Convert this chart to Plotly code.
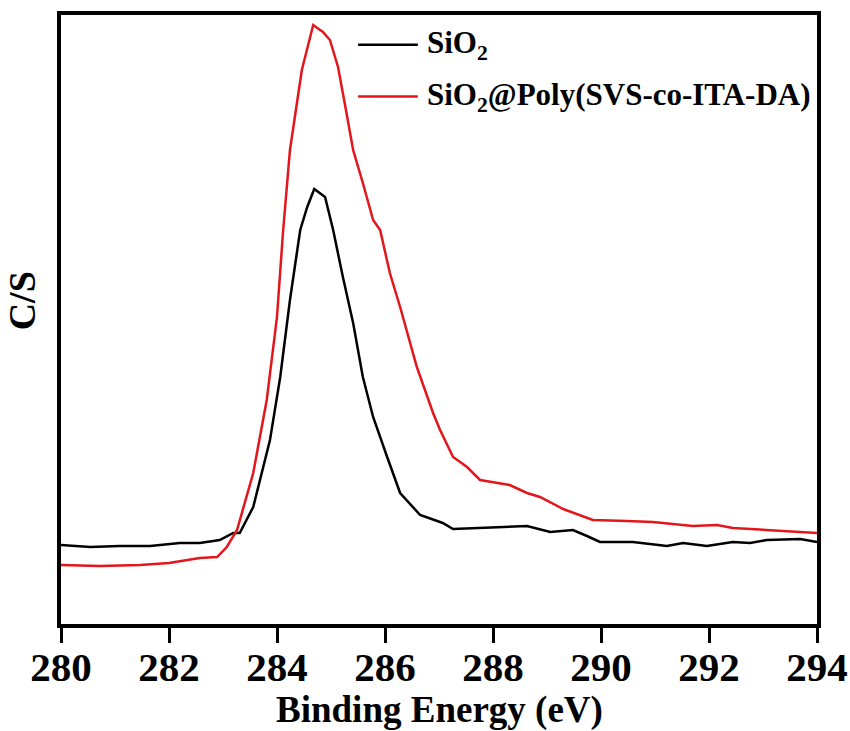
import plotly.graph_objects as go

# Binding energy (eV) and intensity (C/S, arbitrary units)
sio2_x = [280.00, 280.54, 281.09, 281.65, 282.20, 282.57, 282.94, 283.19, 283.31, 283.56,
          283.87, 284.06, 284.24, 284.43, 284.56, 284.69, 284.89, 285.04, 285.22, 285.41,
          285.59, 285.78, 286.04, 286.28, 286.65, 287.07, 287.26, 287.76, 288.13, 288.63,
          289.06, 289.48, 289.74, 289.98, 290.59, 291.22, 291.52, 291.96, 292.44, 292.76,
          293.07, 293.69, 294.00]
sio2_y = [79, 77, 78, 78, 81, 81, 84, 91, 91, 117,
          184, 247, 324, 394, 417, 435, 427, 394, 347, 301,
          247, 207, 167, 131, 109, 101, 95, 96, 97, 98,
          92, 94, 88, 82, 82, 78, 81, 78, 82, 81,
          84, 85, 82]

poly_x = [280.00, 280.72, 281.46, 282.00, 282.57, 282.89, 283.07, 283.26, 283.56, 283.81,
          284.00, 284.11, 284.24, 284.46, 284.67, 284.85, 284.98, 285.13, 285.26, 285.41,
          285.59, 285.78, 285.91, 286.09, 286.28, 286.59, 286.89, 287.02, 287.26, 287.52,
          287.76, 288.00, 288.31, 288.63, 288.87, 289.30, 289.85, 290.48, 290.96, 291.70,
          292.15, 292.44, 293.07, 293.50, 294.00]
poly_y = [59, 58, 59, 61, 66, 67, 77, 94, 151, 224,
          307, 391, 474, 554, 599, 592, 584, 557, 519, 474,
          441, 404, 394, 351, 317, 257, 211, 194, 167, 157,
          144, 142, 139, 131, 127, 115, 104, 103, 102, 98,
          99, 96, 94, 93, 91]

x_ticks = [280, 282, 284, 286, 288, 290, 292, 294]
series_names = ["SiO<sub>2</sub>", "SiO<sub>2</sub>@Poly(SVS-co-ITA-DA)"]
series_colors = ["black", "#e3161c"]

font_family = "Liberation Serif, Times New Roman, serif"

fig = go.Figure()
fig.add_trace(go.Scatter(x=sio2_x, y=sio2_y, mode="lines", name=series_names[0],
                         line=dict(color=series_colors[0], width=2.5)))
fig.add_trace(go.Scatter(x=poly_x, y=poly_y, mode="lines", name=series_names[1],
                         line=dict(color=series_colors[1], width=2.5)))

# custom legend (long line samples like the reference)
legend_y = [0.951, 0.866]
for name, color, ly in zip(series_names, series_colors, legend_y):
    fig.add_shape(type="line", xref="paper", yref="paper", x0=0.393, x1=0.472,
                  y0=ly, y1=ly, line=dict(color=color, width=2.5))
    fig.add_annotation(xref="paper", yref="paper", x=0.481, y=ly, xanchor="left",
                       yanchor="middle", showarrow=False, text="<b>" + name + "</b>",
                       font=dict(size=31, family=font_family, color="black"))

# axis titles
fig.add_annotation(xref="paper", yref="paper", x=-0.021, y=0.53, xanchor="right",
                   yanchor="middle", showarrow=False, textangle=-90,
                   text="<b>C/S</b>", font=dict(size=38, family=font_family, color="black"))
fig.add_annotation(xref="paper", yref="paper", x=0.5, y=-0.104, xanchor="center",
                   yanchor="top", showarrow=False,
                   text="<b>Binding Energy (eV)</b>",
                   font=dict(size=37, family=font_family, color="black"))

fig.update_layout(
    width=850, height=731,
    margin=dict(l=61, r=33, t=15, b=107, autoexpand=False),
    paper_bgcolor="white", plot_bgcolor="white",
    font=dict(family=font_family, color="black"),
    showlegend=False,
    xaxis=dict(range=[280, 294], tickvals=x_ticks, ticks="outside", ticklen=15,
               tickwidth=3, tickcolor="black", showline=True, linewidth=4,
               linecolor="black", mirror=True, showgrid=False, zeroline=False,
               automargin=False, ticklabelstandoff=-11,
               tickfont=dict(size=41, family=font_family, weight="bold")),
    yaxis=dict(range=[0, 609], showticklabels=False, ticks="", showline=True,
               linewidth=4, linecolor="black", mirror=True, showgrid=False,
               zeroline=False, automargin=False),
)

fig.write_html("out.html", config={"displayModeBar": False},
               post_script="document.body.style.margin='0';")
